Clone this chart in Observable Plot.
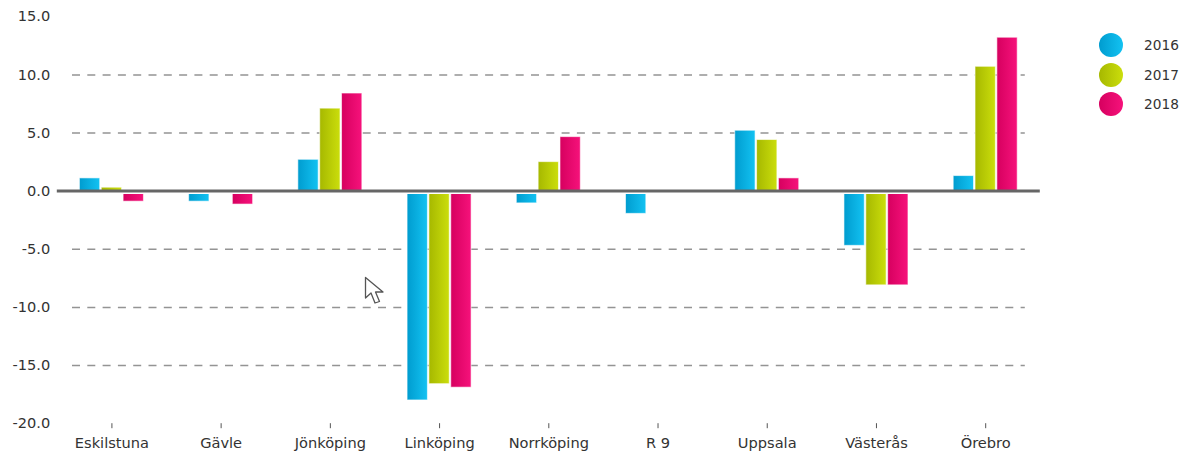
<!DOCTYPE html>
<html>
<head>
<meta charset="utf-8">
<style>
  html, body { margin: 0; padding: 0; background: #fff; }
  #wrap { position: relative; width: 1186px; height: 454px; overflow: hidden; }
  #wrap svg { display: block; }
  .lg { position: absolute; left: 1099px; display: flex; align-items: center; height: 24px;
        font: 13.7px "DejaVu Sans", sans-serif; color: #333; }
  .lg i { display: block; width: 24px; height: 24px; border-radius: 50%; margin-right: 21px; }
  #cursor { position: absolute; left: 364px; top: 276px; }
</style>
<script src="https://cdn.jsdelivr.net/npm/d3@7"></script>
<script src="https://cdn.jsdelivr.net/npm/@observablehq/plot@0.6"></script>
</head>
<body>
<div id="wrap"></div>
<script>
const categories = ["Eskilstuna", "Gävle", "Jönköping", "Linköping", "Norrköping", "R 9", "Uppsala", "Västerås", "Örebro"];
const years = ["2016", "2017", "2018"];
const values2016 = [1.1, -0.9, 2.7, -18.0, -1.05, -1.95, 5.2, -4.7, 1.3];
const values2017 = [0.3, null, 7.1, -16.6, 2.5, null, 4.4, -8.1, 10.7];
const values2018 = [-0.9, -1.15, 8.4, -16.9, 4.65, null, 1.1, -8.1, 13.2];
const gradients = {
  "2016": ["#009ccf", "#13c2f2"],
  "2017": ["#a6b800", "#cbde0c"],
  "2018": ["#d6005f", "#f6127b"]
};
const yTicks = [-20, -15, -10, -5, 0, 5, 10, 15];
const gridTicks = [-15, -10, -5, 5, 10];

const rows = [];
[values2016, values2017, values2018].forEach((vals, s) => {
  vals.forEach((v, i) => { if (v !== null) rows.push({slot: categories[i] + "|" + years[s], year: years[s], value: v}); });
});
// One band per year inside each category, with one empty band either side of the group.
const slots = categories.flatMap(c => [c + "|a", ...years.map(y => c + "|" + y), c + "|b"]);
const middleSlots = categories.map(c => c + "|" + years[1]);

function defs() {
  const d = d3.create("svg:defs");
  for (const y of years) {
    const g = d.append("linearGradient").attr("id", "g" + y);
    g.append("stop").attr("offset", "0").attr("stop-color", gradients[y][0]);
    g.append("stop").attr("offset", "1").attr("stop-color", gradients[y][1]);
  }
  return d.node();
}

const fontFamily = '"DejaVu Sans", sans-serif';
const chart = Plot.plot({
  width: 1186,
  height: 454,
  marginLeft: 56.8,
  marginRight: 146.2,
  marginTop: 16.3,
  marginBottom: 30.8,
  style: {fontFamily, fontSize: "14.6px", color: "#333", background: "#fff"},
  x: {domain: slots, paddingInner: 0.07, paddingOuter: 0.035, axis: null},
  y: {domain: [-20, 15], axis: null},
  color: {domain: years, range: years.map(y => `url(#g${y})`)},
  marks: [
    defs,
    Plot.ruleY(gridTicks, {stroke: "#949494", strokeWidth: 1.5, strokeDasharray: "8 7.3", insetLeft: 15.2, insetRight: 15}),
    Plot.barY(rows, {x: "slot", y: "value", fill: "year", stroke: "#fff", strokeOpacity: 0.6, strokeWidth: 1}),
    Plot.ruleY([0], {stroke: "#fff", strokeWidth: 2.5, dy: 1.5}),
    Plot.ruleY([0], {stroke: "#666", strokeWidth: 3, dy: -0.3}),
    Plot.axisY({ticks: yTicks, tickSize: 0, tickPadding: 7, tickFormat: d => d3.format(".1f")(d).replace("−", "-"), label: null, anchor: "left", fill: "#333", fontSize: 14.6}),
    Plot.axisX({ticks: middleSlots, tickFormat: d => d.split("|")[0], anchor: "bottom", tickSize: 5, tickPadding: 9, label: null, fill: "#333", stroke: "#555", fontSize: 14.6})
  ]
});
const wrap = document.getElementById("wrap");
wrap.appendChild(chart);

years.forEach((y, i) => {
  const el = document.createElement("div");
  el.className = "lg";
  el.style.top = (33 + i * 29.7) + "px";
  const dot = document.createElement("i");
  dot.style.background = `linear-gradient(to right, ${gradients[y][0]}, ${gradients[y][1]})`;
  el.appendChild(dot);
  el.appendChild(document.createTextNode(y));
  wrap.appendChild(el);
});

const cur = document.createElementNS("http://www.w3.org/2000/svg", "svg");
cur.setAttribute("id", "cursor");
cur.setAttribute("width", "24");
cur.setAttribute("height", "32");
cur.innerHTML = '<path d="M1.5 1.5 L1.5 22 L7 17 L11 27 L15.5 25.5 L11.5 16 L19 16 Z" fill="#fff" stroke="#555" stroke-width="1.3" stroke-linejoin="round"/>';
wrap.appendChild(cur);
</script>
</body>
</html>
